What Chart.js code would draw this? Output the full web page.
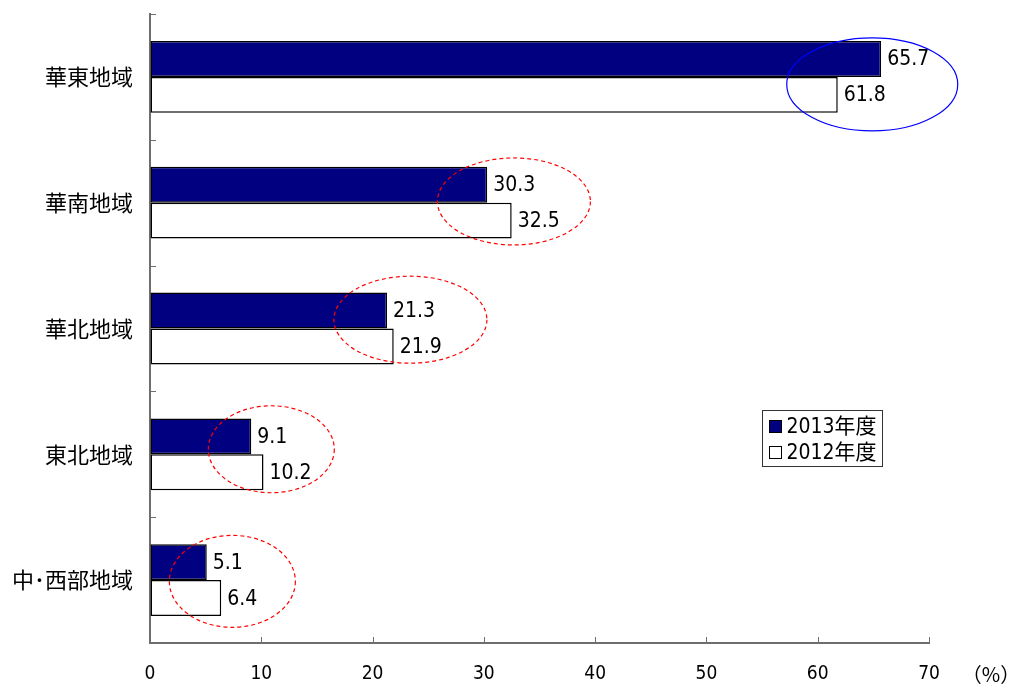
<!DOCTYPE html>
<html>
<head>
<meta charset="utf-8">
<script src="https://cdn.jsdelivr.net/npm/chart.js@4/dist/chart.umd.min.js"></script>
<style>
html,body{margin:0;padding:0;background:#fff;}
#wrap{width:1017px;height:684px;position:relative;}
</style>
</head>
<body>
<div id="wrap"><canvas id="c" width="1017" height="684"></canvas></div>
<script>
const categories = ['華東地域', '華南地域', '華北地域', '東北地域', '中･西部地域'];
const seriesLabels = ['2013年度', '2012年度'];
const values2013 = [65.7, 30.3, 21.3, 9.1, 5.1];
const values2012 = [61.8, 32.5, 21.9, 10.2, 6.4];
const xTickValues = [0, 10, 20, 30, 40, 50, 60, 70];
const unitLabel = '（%）';
// highlight ellipses: centre value on the x scale, category index (fractional)
const ellipseCenterValues = [64.9, 32.7, 23.4, 10.9, 7.4];
const ellipseCenterCats = [0.06, 0.99, 1.93, 2.96, 4.01];

const NUM_FONT = '"Liberation Sans Narrow", "DejaVu Sans Condensed", "Noto Sans CJK JP", sans-serif';
const CJK_FONT = '"Noto Sans CJK JP", sans-serif';

const decorPlugin = {
  id: 'decor',
  afterDatasetsDraw(chart) {
    const ctx = chart.ctx;
    const xs = chart.scales.x, ys = chart.scales.y;
    // value labels
    ctx.save();
    ctx.font = '21px ' + NUM_FONT;
    ctx.fillStyle = '#000';
    ctx.textBaseline = 'middle';
    ctx.textAlign = 'left';
    chart.data.datasets.forEach((ds, di) => {
      const meta = chart.getDatasetMeta(di);
      meta.data.forEach((el, i) => {
        ctx.fillText(ds.data[i].toFixed(1), el.x + 6, el.y + 1);
      });
    });
    ctx.restore();
    // ellipses
    ellipseCenterValues.forEach((v, i) => {
      const cx = xs.getPixelForValue(v);
      const cy = ys.getPixelForValue(ellipseCenterCats[i]);
      ctx.save();
      ctx.beginPath();
      if (i === 0) {
        ctx.strokeStyle = '#0000ff';
        ctx.lineWidth = 1.2;
        ctx.setLineDash([]);
        ctx.ellipse(cx, cy, 85.5, 46.5, 0, 0, Math.PI * 2);
      } else {
        ctx.strokeStyle = '#ff0000';
        ctx.lineWidth = 1.2;
        ctx.setLineDash([4, 3]);
        const rx = i <= 2 ? 76.5 : 63;
        ctx.ellipse(cx, cy, rx, i === 4 ? 46 : 43.5, 0, 0, Math.PI * 2);
      }
      ctx.stroke();
      ctx.restore();
    });
  },
  afterDraw(chart) {
    const ctx = chart.ctx;
    const xs = chart.scales.x, ys = chart.scales.y;
    const ca = chart.chartArea;
    ctx.save();
    ctx.strokeStyle = '#6e6e6e';
    ctx.lineWidth = 1;
    // inward x ticks
    xTickValues.forEach(v => {
      const px = Math.round(xs.getPixelForValue(v)) + 0.5;
      ctx.beginPath();
      ctx.moveTo(px, ca.bottom);
      ctx.lineTo(px, ca.bottom - 6);
      ctx.stroke();
    });
    // inward y ticks at category boundaries
    const band = ys.getPixelForValue(1) - ys.getPixelForValue(0);
    for (let i = 0; i <= categories.length; i++) {
      const py = Math.round(ys.getPixelForValue(i) - band / 2) + 0.5;
      ctx.beginPath();
      ctx.moveTo(ca.left, py);
      ctx.lineTo(ca.left + 6, py);
      ctx.stroke();
    }
    ctx.restore();

    // unit label
    ctx.save();
    ctx.font = '20px ' + CJK_FONT;
    ctx.fillStyle = '#000';
    ctx.textAlign = 'center';
    ctx.textBaseline = 'middle';
    ctx.fillText(unitLabel, 991, 674);
    ctx.restore();

    // legend box
    const lx = Math.round(xs.getPixelForValue(55)) + 0.5;
    const ly = 410.5, lw = 120, lh = 56;
    ctx.save();
    ctx.fillStyle = '#fff';
    ctx.fillRect(lx, ly, lw, lh);
    ctx.strokeStyle = '#333';
    ctx.lineWidth = 1;
    ctx.strokeRect(lx, ly, lw, lh);
    ctx.font = '21px ' + NUM_FONT;
    ctx.textBaseline = 'middle';
    ctx.textAlign = 'left';
    chart.data.datasets.forEach((ds, i) => {
      const cy = ly + 16 + i * 26;
      ctx.fillStyle = ds.backgroundColor;
      ctx.fillRect(lx + 7, cy - 6, 12, 12);
      ctx.strokeStyle = '#000';
      ctx.strokeRect(lx + 7, cy - 6, 12, 12);
      ctx.fillStyle = '#000';
      ctx.fillText(ds.label, lx + 24, cy + 1);
    });
    ctx.restore();
  }
};

new Chart(document.getElementById('c'), {
  type: 'bar',
  data: {
    labels: categories,
    datasets: [
      {
        label: seriesLabels[0],
        data: values2013,
        backgroundColor: '#000080',
        borderColor: '#000000',
        borderWidth: 1.5,
        borderSkipped: false,
        categoryPercentage: 0.571,
        barPercentage: 1.0
      },
      {
        label: seriesLabels[1],
        data: values2012,
        backgroundColor: '#ffffff',
        borderColor: '#000000',
        borderWidth: 1.5,
        borderSkipped: false,
        categoryPercentage: 0.571,
        barPercentage: 1.0
      }
    ]
  },
  options: {
    indexAxis: 'y',
    responsive: false,
    animation: false,
    devicePixelRatio: 1,
    layout: { padding: { top: 14, right: 88, left: 0, bottom: 0 } },
    plugins: {
      legend: { display: false },
      tooltip: { enabled: false }
    },
    scales: {
      x: {
        min: 0,
        max: 70,
        afterFit(scale) { scale.height = 41; scale.paddingLeft = 0; scale.paddingRight = 0; },
        afterBuildTicks(scale) { scale.ticks = xTickValues.map(v => ({ value: v })); },
        ticks: {
          stepSize: 10,
          color: '#000',
          padding: 20,
          maxRotation: 0,
          font: { family: NUM_FONT, size: 19 }
        },
        grid: { drawOnChartArea: false, drawTicks: false },
        border: { display: true, color: '#6e6e6e', width: 2 }
      },
      y: {
        afterFit(scale) { scale.width = 150; scale.paddingTop = 0; scale.paddingBottom = 0; },
        ticks: {
          color: '#000',
          padding: 17,
          font: { family: CJK_FONT, size: 22 }
        },
        grid: { drawOnChartArea: false, drawTicks: false },
        border: { display: true, color: '#6e6e6e', width: 2 }
      }
    }
  },
  plugins: [decorPlugin]
});
</script>
</body>
</html>
